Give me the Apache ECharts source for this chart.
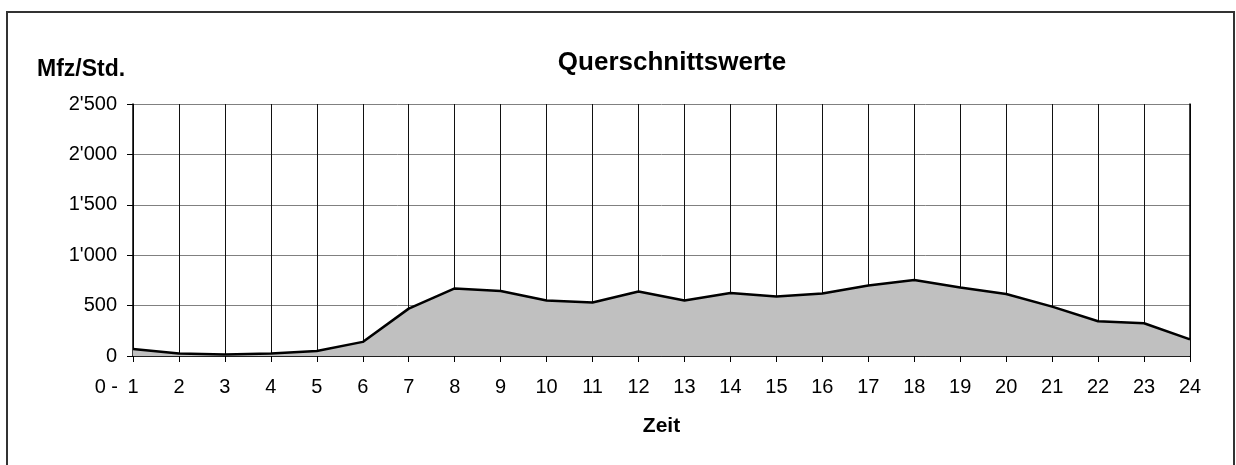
<!DOCTYPE html>
<html>
<head>
<meta charset="utf-8">
<script src="https://cdn.jsdelivr.net/npm/echarts@6/dist/echarts.min.js"></script>
<style>
html, body { margin: 0; padding: 0; background: #fff; }
#chart { width: 1236px; height: 465px; }
</style>
</head>
<body>
<div id="chart"></div>
<script>
// Stunden (Kategorien) und Querschnittswerte Mfz/Std.
const hours = ['1','2','3','4','5','6','7','8','9','10','11','12','13','14','15','16','17','18','19','20','21','22','23','24'];
const values = [70, 25, 15, 25, 50, 140, 470, 670, 645, 550, 530, 640, 550, 625, 590, 620, 700, 755, 680, 615, 490, 345, 325, 165];
const yTicks = [0, 500, 1000, 1500, 2000, 2500];

const font = 'Liberation Sans, Arial, sans-serif';
const chart = echarts.init(document.getElementById('chart'));

const fmt = v => String(v).replace(/\B(?=(\d{3})+(?!\d))/g, "'");

chart.setOption({
	animation: false,
	title: {
		text: 'Querschnittswerte',
		left: 667, top: 45, textAlign: 'center',
		textStyle: { fontFamily: font, fontSize: 26, fontWeight: 'bold', color: '#000' }
	},
	grid: { left: 133, right: 46, top: 104, bottom: 109 },
	graphic: [
		{ type: 'rect', shape: { x: 7, y: 12, width: 1227, height: 480 }, style: { fill: 'none', stroke: '#333', lineWidth: 2 } },
		{ type: 'text', x: 37, y: 70, style: { text: 'Mfz/Std.', font: 'bold 23px ' + font, fill: '#000', verticalAlign: 'middle' } },
		{ type: 'text', x: 118, y: 387, style: { text: '0 -', font: '20px ' + font, fill: '#000', align: 'right', verticalAlign: 'middle' } }
	],
	xAxis: [{
		type: 'category', data: hours, boundaryGap: false,
		name: 'Zeit', nameLocation: 'middle', nameGap: 60,
		nameTextStyle: { fontFamily: font, fontSize: 21, fontWeight: 'bold', color: '#000' },
		axisLine: { lineStyle: { color: '#000', width: 1.5 } },
		axisTick: { length: 6, lineStyle: { color: '#000' } },
		axisLabel: { fontFamily: font, fontSize: 20, color: '#000', margin: 21 },
		splitLine: { show: true, lineStyle: { color: '#111', width: 1 } }
	}, {
		type: 'category', data: hours, boundaryGap: false, position: 'bottom',
		axisLine: { show: false },
		axisTick: { inside: true, length: 6, lineStyle: { color: '#000' } },
		axisLabel: { show: false }
	}],
	yAxis: [{
		type: 'value', min: 0, max: 2500, interval: 500,
		axisLine: { show: true, lineStyle: { color: '#000', width: 1.5 } },
		axisTick: { show: true, length: 6, lineStyle: { color: '#000' } },
		axisLabel: { fontFamily: font, fontSize: 20, color: '#000', margin: 16,
			formatter: v => yTicks.includes(v) ? fmt(v) : '' },
		splitLine: { lineStyle: { color: '#808080', width: 1 } }
	}, {
		type: 'value', min: 0, max: 2500, interval: 500, position: 'right',
		axisLine: { show: true, lineStyle: { color: '#000', width: 1.5 } },
		axisTick: { show: false }, axisLabel: { show: false }, splitLine: { show: false }
	}],
	series: [{
		type: 'line', data: values, symbol: 'none',
		lineStyle: { color: '#000', width: 2.5 },
		areaStyle: { color: '#c0c0c0', opacity: 1 }
	}]
});
</script>
</body>
</html>
